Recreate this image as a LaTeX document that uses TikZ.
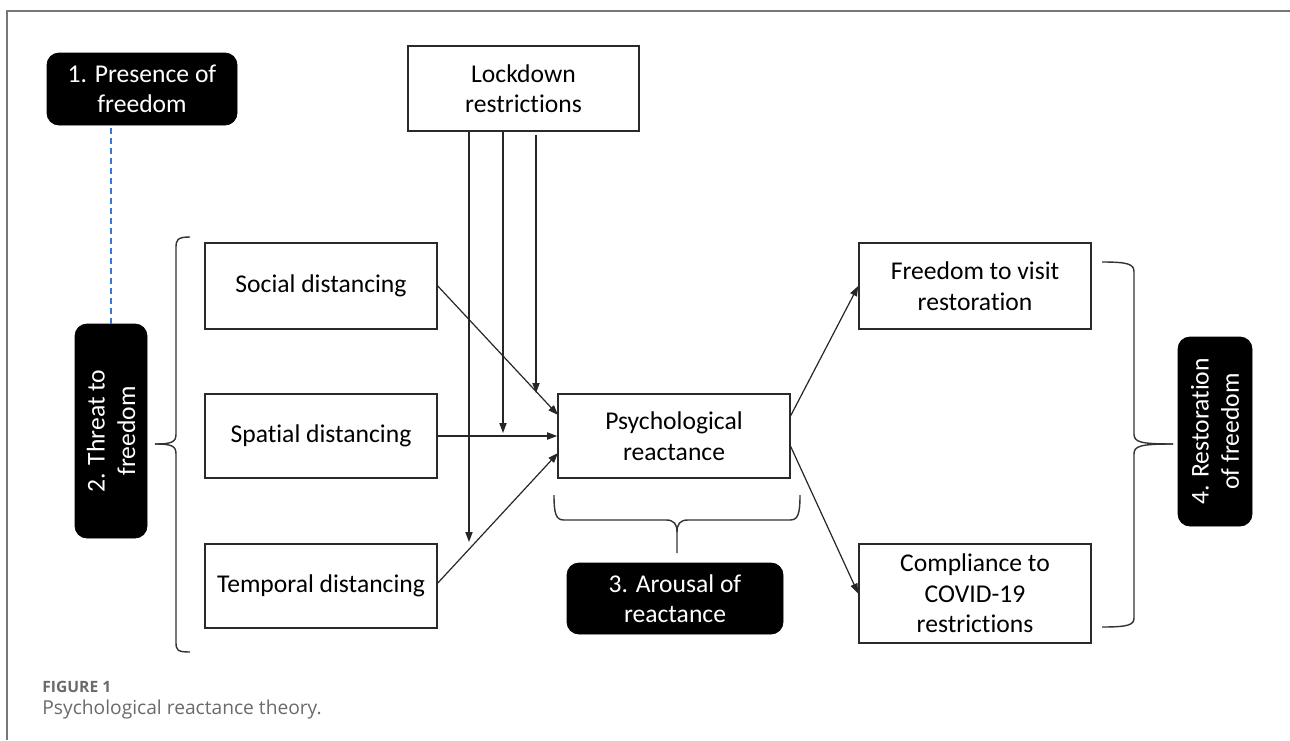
\documentclass[tikz,border=0pt]{standalone}
\usepackage{fontspec}
\setmainfont{Carlito}[Ligatures={NoCommon}]
\newfontfamily\capfont{Open Sans}
\usetikzlibrary{arrows.meta,calc}
\definecolor{boxline}{HTML}{2A2A2A}
\definecolor{framegray}{HTML}{777777}
\definecolor{capgray}{HTML}{6A6A6A}
\definecolor{dashblue}{HTML}{3A78D8}
\tikzset{
  diag/.style={font=\fontsize{12.8}{15.2}\selectfont, align=center, inner sep=0pt},
  plainbox/.style={diag, draw=boxline, line width=0.8pt, fill=white, text=black},
  blackbox/.style={diag, draw=black, fill=black, text=white, rounded corners=6pt},
  conn/.style={line width=0.6pt, draw=black!85},
  arr/.style={conn, -{Triangle[length=5pt,width=3.6pt]}},
  brace/.style={line width=0.7pt, draw=black!80},
}
\begin{document}
\begin{tikzpicture}[x=0.5pt,y=-0.5pt]
\useasboundingbox (0,0) rectangle (1290,740);
% frame
\draw[framegray, line width=1pt] (7,740) -- (7,11) -- (1290,11);

% nodes
\node[blackbox, minimum width=95pt, minimum height=36pt] (pres) at (142,89) {1. Presence of\\freedom};
\node[blackbox, rotate=90, minimum width=107pt, minimum height=36pt] (threat) at (111,431) {2. Threat to\\freedom};
\node[plainbox, minimum width=115.5pt, minimum height=42.5pt] (lock) at (523.5,88.5) {Lockdown\\restrictions};
\node[plainbox, minimum width=116pt, minimum height=43pt] (social) at (321,286) {Social distancing};
\node[plainbox, minimum width=116pt, minimum height=42pt] (spatial) at (321,436) {Spatial distancing};
\node[plainbox, minimum width=116pt, minimum height=42pt] (temporal) at (321,586) {Temporal distancing};
\node[plainbox, minimum width=116pt, minimum height=42pt] (psych) at (674,436) {Psychological\\reactance};
\node[blackbox, minimum width=108pt, minimum height=35.5pt] (arousal) at (675,598.5) {3. Arousal of\\reactance};
\node[plainbox, minimum width=116pt, minimum height=43pt] (free) at (975,286) {Freedom to visit\\restoration};
\node[plainbox, minimum width=116pt, minimum height=49.5pt] (comp) at (975,593.5) {Compliance to\\COVID-19\\restrictions};
\node[blackbox, rotate=90, minimum width=94.5pt, minimum height=37pt] (restor) at (1215,431.5) {4. Restoration\\of freedom};

% dashed link
\draw[dashblue, line width=0.6pt, dash pattern=on 3pt off 2pt] (threat.east) -- (threat.east |- pres.south);

% lockdown moderators
\coordinate (m1) at (469,542);
\coordinate (m2) at (503,433);
\coordinate (m3) at (536,393);
\draw[arr] (m1 |- lock.south) -- (m1);
\draw[arr] (m2 |- lock.south) -- (m2);
\draw[arr] ($(m3 |- lock.south)+(0,3)$) -- (m3);

% inputs to psych
\coordinate (pin1) at (558,415);
\coordinate (pin3) at (558,453);
\draw[arr] (social.east) -- (pin1);
\draw[arr] (spatial.east) -- (psych.west);
\draw[arr] ($(temporal.east)+(0,-3)$) -- (pin3);

% outputs
\coordinate (pout1) at (790,417);
\coordinate (pout2) at (790,445);
\draw[arr] (pout1) -- (free.west);
\draw[arr] (pout2) -- (comp.west);

% left brace
\coordinate (lbt) at (155,444);
\draw[brace] (190,237) .. controls (177,237) and (176,240) .. (176,248) -- (176,434)
  .. controls (176,442) and (172,444) .. (lbt);
\draw[brace] (lbt) .. controls (172,444) and (176,446) .. (176,454) -- (176,642)
  .. controls (176,650) and (177,652) .. (190,652);

% bottom brace
\coordinate (bbt) at (677,553);
\draw[brace] (554,495) .. controls (554,514) and (556,520) .. (564,520) -- (666,520)
  .. controls (674,520) and (677,524) .. (677,532) -- (bbt);
\draw[brace] (677,532) .. controls (677,524) and (680,520) .. (688,520) -- (790,520)
  .. controls (798,520) and (800,514) .. (800,495);

% right brace
\coordinate (rbt) at (1173,444);
\draw[brace] (1102,262) .. controls (1128,262) and (1134,264) .. (1134,272) -- (1134,434)
  .. controls (1134,442) and (1140,444) .. (rbt);
\draw[brace] (rbt) .. controls (1140,444) and (1134,446) .. (1134,454) -- (1134,618)
  .. controls (1134,625) and (1128,627) .. (1102,627);

% caption
\node[anchor=base west, inner sep=0pt, text=capgray, font=\capfont\bfseries\fontsize{7.8}{9}\selectfont] (figlab) at (42,692) {FIGURE 1};
\node[anchor=base west, inner sep=0pt, text=capgray, font=\capfont\fontsize{9.6}{11}\selectfont] (figcap) at (42,714) {Psychological reactance theory.};
\end{tikzpicture}
\end{document}
